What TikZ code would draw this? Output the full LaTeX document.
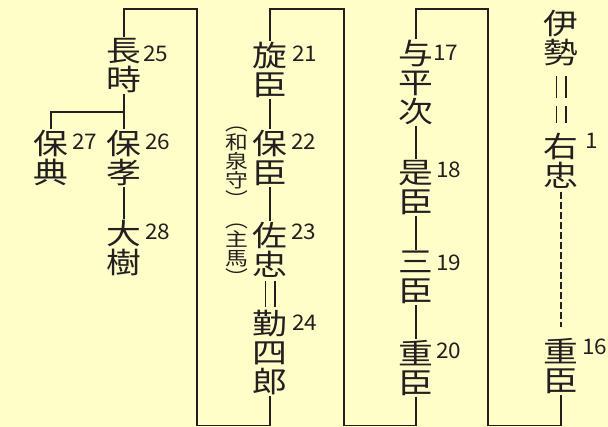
\documentclass[tikz,border=0pt]{standalone}
\usepackage{fontspec}
\newfontfamily\jpf[FakeStretch=1.2]{Noto Sans CJK JP}
\newfontfamily\numf[FakeStretch=1.05]{Noto Sans CJK JP}
\definecolor{bg}{RGB}{255,254,200}
\definecolor{ink}{RGB}{35,31,32}
\begin{document}
\begin{tikzpicture}[x=1pt,y=-1pt,
  nm/.style={font=\jpf\fontsize{29}{29}\selectfont, align=center, inner sep=1pt, anchor=north, text=ink},
  nt/.style={font=\jpf\fontsize{19}{19}\selectfont, align=center, inner sep=0pt, anchor=north, text=ink},
  gen/.style={font=\numf\fontsize{21.5}{21.5}\selectfont, inner sep=0pt, anchor=north west, text=ink},
  ln/.style={draw=ink, line width=1.5pt},
  dl/.style={ln, dash pattern=on 7pt off 3pt},
  dbl/.style={draw=ink, line width=1.4pt, double=bg, double distance=8.2pt}]
\fill[bg] (0,0) rectangle (608,427);
\useasboundingbox (0,0) rectangle (608,427);
% column A
\node[nm] (ise) at (561,9) {伊\\勢};
\node[nm] (uchu) at (561,132) {右\\忠};
\node[gen] (g1) at (585,133) {1};
\node[nm] (sige16) at (561,337) {重\\臣};
\node[gen] (g16) at (582,339) {16};
% column B
\node[nm] (yohei) at (416,39) {与\\平\\次};
\node[gen] (g17) at (433,45) {17};
\node[nm] (kore) at (416,159) {是\\臣};
\node[gen] (g18) at (436,162) {18};
\node[nm] (mitsu) at (416,250) {三\\臣};
\node[gen] (g19) at (436,255) {19};
\node[nm] (sige20) at (416,339) {重\\臣};
\node[gen] (g20) at (436,343) {20};
% column C
\node[nm] (sen) at (270,41) {旋\\臣};
\node[gen] (g21) at (292,46) {21};
\node[nm] (yasuomi) at (270,129) {保\\臣};
\node[gen] (g22) at (291,134) {22};
\node[nt] (izumi) at (237,127) {︵\\和\\泉\\守\\︶};
\node[nm] (sachu) at (270,221) {佐\\忠};
\node[gen] (g23) at (291,224) {23};
\node[nt] (shume) at (237,224) {︵\\主\\馬\\︶};
\node[nm] (kin) at (270,309) {勤\\四\\郎};
\node[gen] (g24) at (292,315) {24};
% column D
\node[nm] (naga) at (124,37) {長\\時};
\node[gen] (g25) at (143,46) {25};
\node[nm] (yasunori) at (51,129) {保\\典};
\node[gen] (g27) at (72,134) {27};
\node[nm] (yasutaka) at (124,129) {保\\孝};
\node[gen] (g26) at (145,134) {26};
\node[nm] (taiju) at (124,219) {大\\樹};
\node[gen] (g28) at (145,224) {28};
% corner coordinates
\coordinate (a1) at (488,425.5);
\coordinate (a2) at (416,9);
\coordinate (b1) at (344,425.5);
\coordinate (b2) at (270,9);
\coordinate (c1) at (197,425.5);
\coordinate (c2) at (124,9);
\coordinate (br) at (124,112);
% connectors column A
\draw[dbl, shorten <=9pt, shorten >=9pt, dash pattern=on 22pt off 8pt] (ise.south) -- (uchu.north);
\draw[dl, shorten <=2pt, shorten >=10pt] (uchu.south) -- (sige16.north);
\draw[ln] (sige16.south) |- (a1) |- (a2) -- (yohei.north);
% column B
\draw[ln] (yohei.south) -- (kore.north);
\draw[ln] (kore.south) -- (mitsu.north);
\draw[ln] (mitsu.south) -- (sige20.north);
\draw[ln] (sige20.south) |- (b1) |- (b2) -- (sen.north);
% column C
\draw[ln] (sen.south) -- (yasuomi.north);
\draw[ln] (yasuomi.south) -- (sachu.north);
\draw[dbl, shorten <=2pt, shorten >=2pt] (sachu.south) -- (kin.north);
\draw[ln] (kin.south) |- (c1) |- (c2) -- (naga.north);
% column D
\draw[ln] (naga.south) -- (yasutaka.north);
\draw[ln] (br) -| (yasunori.north);
\draw[ln] (yasutaka.south) -- (taiju.north);
\end{tikzpicture}
\end{document}
